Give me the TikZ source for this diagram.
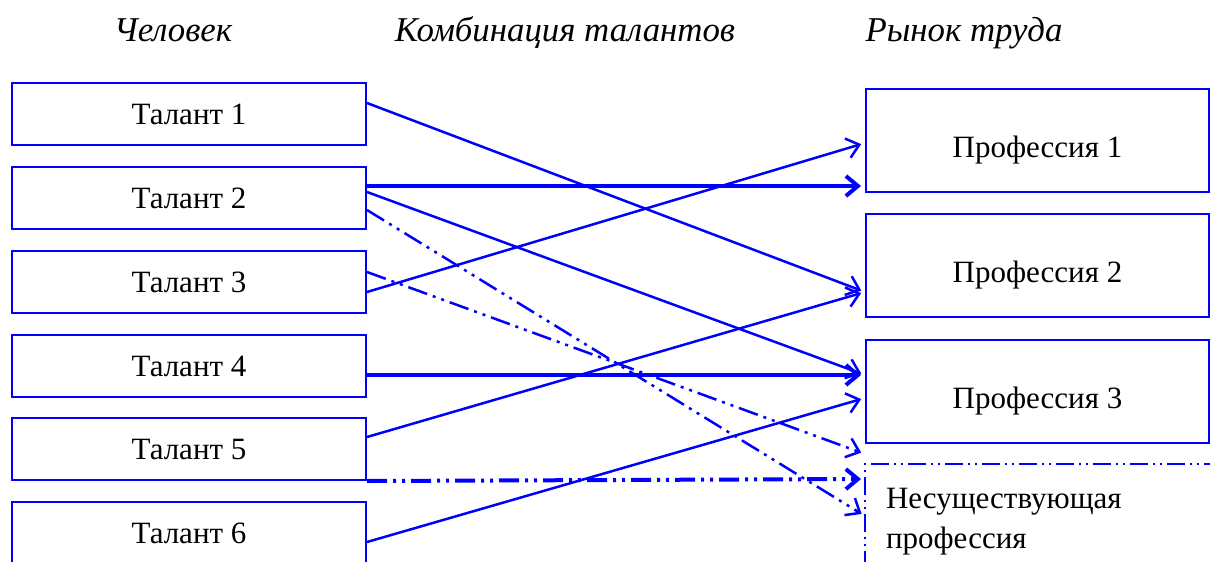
\documentclass[tikz,border=0pt]{standalone}
\usepackage{fontspec}
\setmainfont{Liberation Serif}
\usetikzlibrary{calc,arrows.meta}
\tikzset{
	box/.style={draw=blue,line width=1pt,minimum width=177pt,minimum height=31pt,font=\fontsize{15.5}{20}\selectfont},
	prof/.style={box,minimum width=171.5pt,minimum height=51.5pt,text height=20.7pt,text depth=3.7pt},
	link/.style={draw=blue,line width=1.25pt,-{Straight Barb[length=6pt,width=10pt]},shorten >=2pt},
	thicklink/.style={link,line width=2pt},
	dashlink/.style={link,dash pattern=on 10pt off 3pt on 1.5pt off 3pt on 1.5pt off 3pt},
	title/.style={font=\fontsize{17.4}{20}\selectfont\itshape,anchor=base}
}
\newcommand{\talent}[2]{
	\node[box] (t#1) at (189,#2) {Талант #1};
}
\newcommand{\profession}[2]{
	\node[prof] (p#1) at (1037.5,#2) {Профессия #1};
}

\begin{document}
\begin{tikzpicture}[x=0.5pt,y=-0.5pt]
	\useasboundingbox (0,0) rectangle (1210,562);
	% headings
	\node[title] (human) at (173,41) {Человек};
	\node[title] (combo) at (565,41) {Комбинация талантов};
	\node[title] (market) at (964,41) {Рынок труда};
	% talents
	\talent{1}{114}
	\talent{2}{198}
	\talent{3}{282}
	\talent{4}{366}
	\talent{5}{449}
	\talent{6}{533}
	% professions
	\profession{1}{140}
	\profession{2}{265.5}
	\profession{3}{391.5}
	\node[prof,draw=none,minimum height=70pt] (n) at (1037.5,535) {};
	\draw[blue,line width=1pt,dash pattern=on 9pt off 2.5pt on 1pt off 2.5pt on 1pt off 2.5pt] (n.south west) -- (n.north west) -- (n.north east);
	\node[anchor=north west,align=left,font=\fontsize{15.5}{20}\selectfont] (ntext) at ($(n.north west)+(14,17)$) {Несуществующая\\профессия};
	% links
	\draw[link] ($(t1.east)+(0,-11)$) -- ($(p2.west)+(0,26.5)$);
	\draw[thicklink] ($(t2.east)+(0,-12)$) -- ($(p1.west)+(0,46)$);
	\draw[link] ($(t2.east)+(0,-6)$) -- ($(p3.west)+(0,-16.5)$);
	\draw[dashlink] ($(t2.east)+(0,12)$) -- ($(n.north west)+(0,52)$);
	\draw[dashlink] ($(t3.east)+(0,-10)$) -- ($(n.north west)+(0,-10)$);
	\draw[link] ($(t3.east)+(0,10)$) -- ($(p1.west)+(0,3)$);
	\draw[thicklink] ($(t4.east)+(0,9)$) -- ($(p3.west)+(0,-16.5)$);
	\draw[link] ($(t5.east)+(0,-12)$) -- ($(p2.west)+(0,26.5)$);
	\draw[dashlink,line width=2pt] (t5.south east) -- ($(n.north west)+(0,15)$);
	\draw[link] ($(t6.east)+(0,9)$) -- ($(p3.west)+(0,6.5)$);
\end{tikzpicture}
\end{document}
